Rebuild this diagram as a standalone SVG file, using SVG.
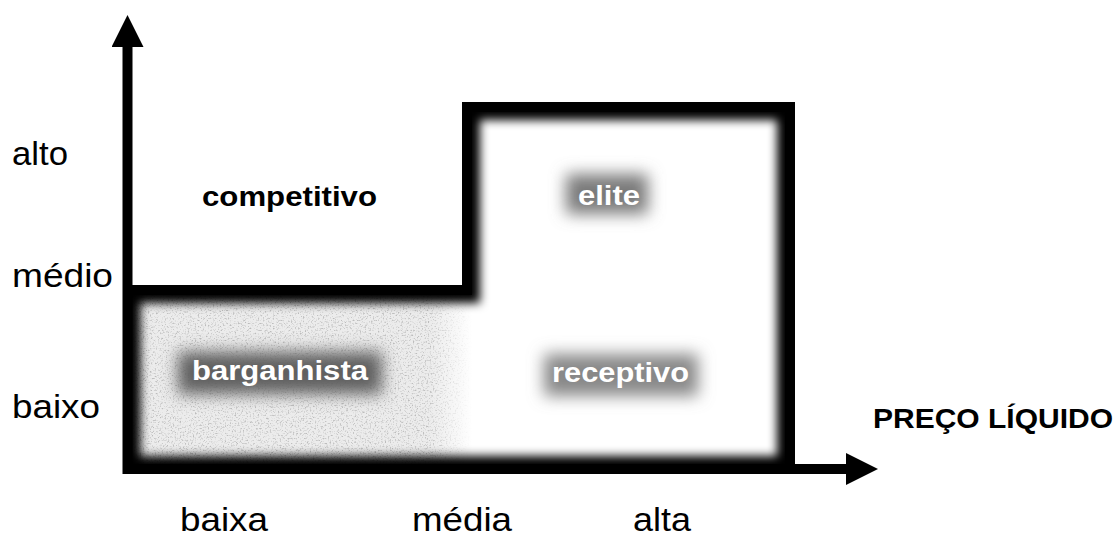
<svg xmlns="http://www.w3.org/2000/svg" width="1119" height="536" viewBox="0 0 1119 536">
  <defs>
    <style>
      .lbl{font-family:"Liberation Sans",Arial,Helvetica,sans-serif;font-size:34px;fill:#000}
      .bl{font-family:"Liberation Sans",Arial,Helvetica,sans-serif;font-size:28px;font-weight:bold;fill:#000}
      .wt{font-family:"Liberation Sans",Arial,Helvetica,sans-serif;font-size:28px;font-weight:bold;fill:#fff}
      .line{fill:none;stroke:#000;stroke-width:10;stroke-linejoin:miter}
    </style>
    <filter id="stip" x="0" y="0" width="1" height="1">
      <feTurbulence type="fractalNoise" baseFrequency="0.6" numOctaves="2" seed="5" result="n"/>
      <feColorMatrix in="n" type="matrix" values="0 0 0 0 0.5  0 0 0 0 0.5  0 0 0 0 0.5  3.5 0 0 0 -1.8" result="specks"/>
      <feFlood flood-color="#ececec" result="bg"/>
      <feMerge result="m"><feMergeNode in="bg"/><feMergeNode in="specks"/></feMerge>
      <feComposite in="m" in2="SourceAlpha" operator="in"/>
    </filter>
    <filter id="shadow" x="-10%" y="-10%" width="120%" height="120%">
      <feGaussianBlur stdDeviation="5"/>
    </filter>
    <filter id="halo" x="-50%" y="-100%" width="200%" height="300%">
      <feGaussianBlur stdDeviation="8"/>
    </filter>
    <linearGradient id="fade" x1="0" y1="0" x2="1" y2="0">
      <stop offset="0" stop-color="#fff" stop-opacity="0"/>
      <stop offset="1" stop-color="#fff" stop-opacity="1"/>
    </linearGradient>
    <clipPath id="inner">
      <polygon points="132,295 472,295 472,112 785,112 785,464 132,464"/>
    </clipPath>
    <marker id="arrow" markerUnits="userSpaceOnUse" markerWidth="32" markerHeight="32" viewBox="0 0 32 32" refX="1" refY="16" orient="auto">
      <path d="M0,0 L32,16 L0,32 Z" fill="#000"/>
    </marker>
  </defs>

  <rect width="1119" height="536" fill="#fff"/>

  <!-- lower-left stippled region -->
  <g id="region-barganhista-bg">
    <rect x="132" y="295" width="340" height="169" fill="#000" filter="url(#stip)"/>
    <rect x="430" y="295" width="42" height="169" fill="url(#fade)"/>
  </g>

  <!-- inner shadow of the outline -->
  <g id="inner-shadow" clip-path="url(#inner)">
    <path d="M123 290 H467 V107 H790 V469 H123 Z M127.5 474 V290" fill="none" stroke="#000" stroke-width="26" filter="url(#shadow)"/>
  </g>

  <g id="node-competitivo">
    <text class="bl" x="202" y="206" textLength="175" lengthAdjust="spacingAndGlyphs">competitivo</text>
  </g>

  <g id="node-elite">
    <rect x="566" y="174" width="82" height="40" fill="#7a7a7a" filter="url(#halo)"/>
    <text class="wt" x="578" y="205" textLength="62" lengthAdjust="spacingAndGlyphs">elite</text>
  </g>

  <g id="node-barganhista">
    <rect x="178" y="352" width="204" height="42" fill="#606060" filter="url(#halo)"/>
    <text class="wt" x="192" y="380" textLength="176" lengthAdjust="spacingAndGlyphs">barganhista</text>
  </g>

  <g id="node-receptivo">
    <rect x="544" y="354" width="154" height="42" fill="#888" filter="url(#halo)"/>
    <text class="wt" x="552" y="382" textLength="137" lengthAdjust="spacingAndGlyphs">receptivo</text>
  </g>

  <g id="connectors">
    <path class="line" d="M123 290 H467 V107 H790 V474"/>
    <line class="line" x1="127.5" y1="474" x2="127.5" y2="46" marker-end="url(#arrow)"/>
    <line class="line" x1="123" y1="469" x2="847" y2="469" marker-end="url(#arrow)"/>
  </g>

  <g id="axis-labels">
    <text class="lbl" x="12" y="165" textLength="56" lengthAdjust="spacingAndGlyphs">alto</text>
    <text class="lbl" x="12" y="287" textLength="101" lengthAdjust="spacingAndGlyphs">médio</text>
    <text class="lbl" x="12" y="418" textLength="88" lengthAdjust="spacingAndGlyphs">baixo</text>
    <text class="lbl" x="180" y="531" textLength="88" lengthAdjust="spacingAndGlyphs">baixa</text>
    <text class="lbl" x="412" y="531" textLength="100" lengthAdjust="spacingAndGlyphs">média</text>
    <text class="lbl" x="633" y="531" textLength="58" lengthAdjust="spacingAndGlyphs">alta</text>
    <text class="bl" x="873" y="428" textLength="240" lengthAdjust="spacingAndGlyphs">PREÇO LÍQUIDO</text>
  </g>
</svg>
